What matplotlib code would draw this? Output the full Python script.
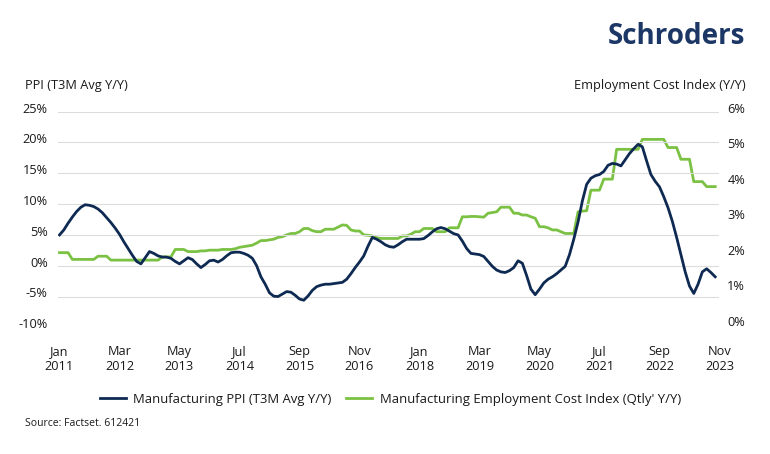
import matplotlib
matplotlib.use("Agg")
import matplotlib.pyplot as plt
from matplotlib.transforms import ScaledTranslation

plt.rcParams['font.family'] = ['Open Sans', 'DejaVu Sans']

# monthly, Jan 2011 onwards
ppi = [
    5.0, 5.8, 6.9, 7.9, 8.8, 9.5, 9.9, 9.8, 9.6, 9.2, 8.6, 7.8,          # 2011
    7.0, 6.1, 5.1, 3.9, 2.8, 1.7, 0.7, 0.3, 1.3, 2.3, 2.0, 1.6,          # 2012
    1.4, 1.4, 1.2, 0.7, 0.3, 0.8, 1.3, 1.0, 0.3, -0.3, 0.2, 0.8,         # 2013
    0.9, 0.6, 1.0, 1.6, 2.1, 2.2, 2.2, 2.0, 1.7, 1.2, 0.0, -1.8,         # 2014
    -3.0, -4.4, -4.95, -5.0, -4.6, -4.2, -4.3, -4.8, -5.4, -5.6, -4.9, -4.0,  # 2015
    -3.4, -3.15, -3.0, -3.0, -2.9, -2.8, -2.7, -2.2, -1.3, -0.3, 0.6, 1.6,    # 2016
    3.2, 4.6, 4.3, 3.9, 3.4, 3.1, 3.0, 3.4, 3.9, 4.3, 4.3, 4.3,          # 2017
    4.3, 4.4, 4.9, 5.5, 6.0, 6.2, 6.0, 5.6, 5.2, 5.0, 4.0, 2.8,          # 2018
    2.0, 1.9, 1.8, 1.5, 0.7, -0.1, -0.7, -1.0, -1.1, -0.8, -0.3, 0.8,    # 2019
    0.4, -1.6, -3.8, -4.7, -3.8, -2.8, -2.2, -1.8, -1.3, -0.7, -0.1, 1.8,  # 2020
    4.3, 7.1, 10.5, 13.2, 14.2, 14.6, 14.8, 15.3, 16.3, 16.6, 16.5, 16.2,  # 2021
    17.2, 18.2, 19.0, 19.7, 19.3, 17.0, 14.8, 13.7, 12.8, 11.2, 9.4, 7.2,  # 2022
    4.6, 1.8, -1.0, -3.3, -4.5, -3.0, -1.0, -0.5, -1.1, -1.8,            # 2023
]

eci = [
    2.03, 2.03, 2.03, 1.84, 1.84, 1.84, 1.84, 1.84, 1.84, 1.93, 1.93, 1.93,  # 2011
    1.82, 1.82, 1.82, 1.82, 1.82, 1.82, 1.82, 1.82, 1.82, 1.82, 1.82, 1.82,  # 2012
    1.91, 1.91, 1.91, 2.12, 2.12, 2.12, 2.06, 2.06, 2.06, 2.08, 2.08, 2.10,  # 2013
    2.10, 2.10, 2.12, 2.12, 2.12, 2.14, 2.18, 2.20, 2.22, 2.24, 2.30, 2.37,  # 2014
    2.37, 2.39, 2.41, 2.46, 2.48, 2.53, 2.57, 2.57, 2.62, 2.71, 2.71, 2.65,  # 2015
    2.62, 2.62, 2.69, 2.69, 2.69, 2.75, 2.81, 2.80, 2.67, 2.64, 2.64, 2.53,  # 2016
    2.52, 2.50, 2.45, 2.43, 2.43, 2.43, 2.43, 2.43, 2.50, 2.50, 2.55, 2.62,  # 2017
    2.62, 2.71, 2.71, 2.71, 2.62, 2.62, 2.62, 2.73, 2.73, 2.73, 3.04, 3.04,  # 2018
    3.05, 3.05, 3.04, 3.03, 3.14, 3.16, 3.18, 3.31, 3.31, 3.31, 3.14, 3.14,  # 2019
    3.09, 3.09, 3.04, 3.00, 2.76, 2.76, 2.73, 2.67, 2.67, 2.62, 2.57, 2.57,  # 2020
    2.57, 3.18, 3.20, 3.21, 3.79, 3.79, 3.79, 4.10, 4.10, 4.10, 4.94, 4.94,  # 2021
    4.94, 4.94, 4.94, 4.94, 5.22, 5.22, 5.22, 5.22, 5.22, 5.22, 4.99, 4.99,  # 2022
    4.99, 4.66, 4.66, 4.66, 4.03, 4.03, 4.03, 3.89, 3.89, 3.89,              # 2023
]

xtick_pos = [0, 14, 28, 42, 56, 70, 84, 98, 112, 126, 140, 154]
xtick_labels = ['Jan\n2011', 'Mar\n2012', 'May\n2013', 'Jul\n2014', 'Sep\n2015', 'Nov\n2016',
                'Jan\n2018', 'Mar\n2019', 'May\n2020', 'Jul\n2021', 'Sep\n2022', 'Nov\n2023']
left_ticks = [-10, -5, 0, 5, 10, 15, 20, 25]
right_ticks = [0, 1, 2, 3, 4, 5, 6]

navy = '#0e2a52'
green = '#7bc143'
txt = '#1a1a1a'

fig = plt.figure(figsize=(7.7, 4.54), dpi=100)
fig.patch.set_facecolor('white')
ax = fig.add_axes([0.0756, 0.279, 0.8588, 0.475])
ax2 = ax.twinx()

months = list(range(len(ppi)))
l1, = ax.plot(months, ppi, color=navy, lw=2.0, zorder=3)
l2, = ax2.plot(list(range(len(eci))), eci, color=green, lw=2.0, zorder=2)

ax.set_zorder(ax2.get_zorder() + 1)
ax.patch.set_visible(False)

ax.set_xlim(-0.3, 154)
ax.set_ylim(-10, 25)
ax2.set_ylim(-0.073, 6.0)

ax.set_yticks(left_ticks)
ax.set_yticklabels([f'{v}%' for v in left_ticks])
ax2.set_yticks(right_ticks)
ax2.set_yticklabels([f'{v}%' for v in right_ticks], ha='right')
ax.set_xticks(xtick_pos)
ax.set_xticklabels(xtick_labels)

ax.grid(axis='y', color='#dcdcdc', lw=0.8)
ax.set_axisbelow(True)
for a in (ax, ax2):
    for s in a.spines.values():
        s.set_visible(False)
ax.tick_params(axis='both', length=0, labelsize=9.2, colors=txt)
ax.tick_params(axis='y', pad=7.5)
ax.tick_params(axis='x', pad=13)
ax2.tick_params(axis='y', length=0, labelsize=9.2, colors=txt, pad=18.4)

up = ScaledTranslation(0, 3 / 72, fig.dpi_scale_trans)
for lbl in ax.get_yticklabels() + ax2.get_yticklabels():
    lbl.set_transform(lbl.get_transform() + up)

fig.text(0.032, 1 - 85 / 454, 'PPI (T3M Avg Y/Y)', fontsize=9.2, color=txt, va='center', ha='left')
fig.text(0.968, 1 - 85 / 454, 'Employment Cost Index (Y/Y)', fontsize=9.2, color=txt,
         va='center', ha='right')
fig.text(0.968, 1 - 37 / 454, 'Schroders', fontsize=20, fontweight='bold', color='#1c3766',
         va='center', ha='right')
fig.text(0.032, 1 - 424 / 454, 'Source: Factset. 612421', fontsize=7.5, color=txt,
         va='center', ha='left')

fig.legend([l1, l2], ['Manufacturing PPI (T3M Avg Y/Y)',
                      "Manufacturing Employment Cost Index (Qtly' Y/Y)"],
           loc='center', bbox_to_anchor=(0.507, 1 - 399 / 454), ncol=2, frameon=False,
           fontsize=9.45, handlelength=2.0, columnspacing=1.1, handletextpad=0.55,
           labelcolor=txt)

fig.savefig('out.png', dpi=100)
